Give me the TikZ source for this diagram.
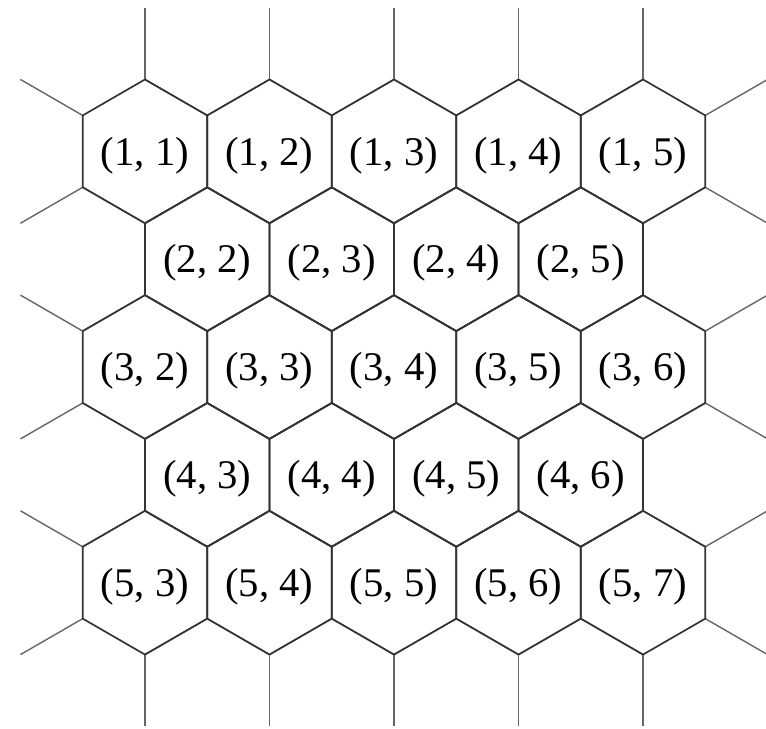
\documentclass[tikz,border=0pt]{standalone}
\usepackage{fontspec}
\setmainfont{Liberation Serif}
\usetikzlibrary{calc}

\tikzset{
  cellwall/.style={draw=black!80, line width=1.2pt, line join=round},
  spoke/.style={draw=black!60, line width=1pt},
  celllabel/.style={font=\fontsize{29}{32}\selectfont, inner sep=0pt, yshift=-0.1cm},
}
\newcommand{\hexside}{1.8}

\begin{document}
\begin{tikzpicture}
    \useasboundingbox (-3.63,3.79) rectangle (15.55,-14.44);
    % cell centres and outer spokes
    \foreach \r/\first/\last in {1/1/5, 2/2/5, 3/2/6, 4/3/6, 5/3/7} {
        \foreach \c in {\first,...,\last} {
            \coordinate (c\r\c) at ({(\c-(\r+1)/2)*sqrt(3)*\hexside}, {-(\r-1)*1.5*\hexside});
            \foreach \a in {30,90,...,330}
                \draw[spoke] ($(c\r\c)+(\a:\hexside)$) -- ++(\a:\hexside);
        }
    }
    % hexagons with labels
    \foreach \r/\first/\last in {1/1/5, 2/2/5, 3/2/6, 4/3/6, 5/3/7} {
        \foreach \c in {\first,...,\last} {
            \draw[cellwall] ($(c\r\c)+(30:\hexside)$)
                \foreach \a in {90,150,...,330} { -- ($(c\r\c)+(\a:\hexside)$) } -- cycle;
            \node[celllabel] (l\r\c) at (c\r\c) {(\r, \c)};
        }
    }
\end{tikzpicture}
\end{document}
